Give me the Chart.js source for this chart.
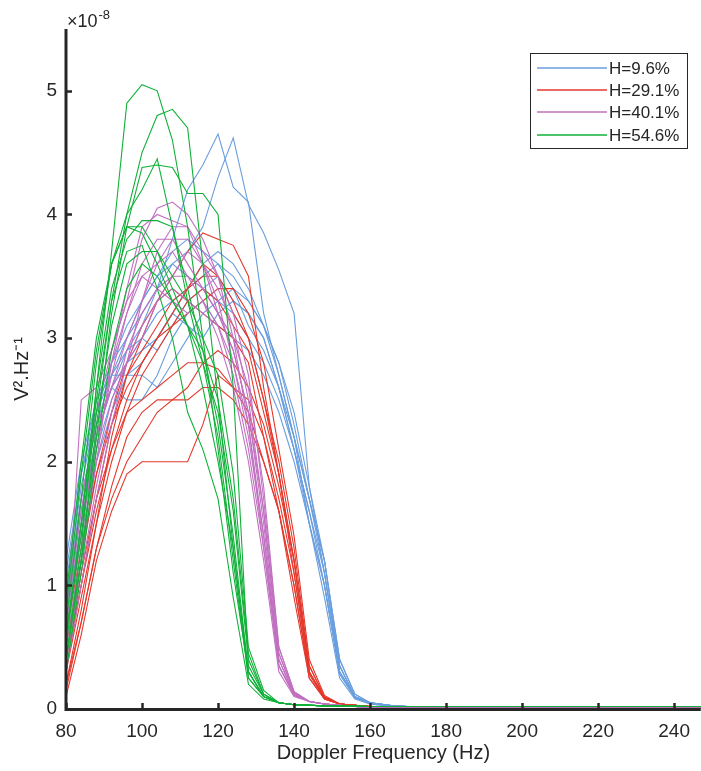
<!DOCTYPE html>
<html>
<head>
<meta charset="utf-8">
<title>Doppler spectra</title>
<script src="https://cdn.jsdelivr.net/npm/chart.js@4.4.1/dist/chart.umd.min.js"></script>
<style>
  html, body { margin: 0; padding: 0; background: #fff; }
  #wrap { width: 701px; height: 771px; position: relative; }
</style>
</head>
<body>
<div id="wrap"><canvas id="spectrumChart"></canvas></div>
<script>
// Frequency grid (Hz) shared by every run
const freqs = [80, 84, 88, 92, 96, 100, 104, 108, 112, 116, 120, 124, 128, 132, 136, 140, 144, 148, 152, 156, 160, 166, 175, 248];

// Tick values (y in units of 1e-8 V².Hz⁻¹)
const xTicks = [80, 100, 120, 140, 160, 180, 200, 220, 240];
const yTicks = [0, 1, 2, 3, 4, 5];

const seriesLabels = ['H=9.6%', 'H=29.1%', 'H=40.1%', 'H=54.6%'];

// H=9.6% runs
const blueRuns = [
  [0.8, 1.6, 2.2, 2.6, 2.9, 3.1, 3.4, 3.8, 4.2, 4.4, 4.65, 4.22, 4.1, 3.2, 2.7, 2.2, 1.7, 1.2, 0.4, 0.12, 0.05, 0.025, 0.012, 0.006],
  [0.9, 1.7, 2.3, 2.7, 3.0, 3.2, 3.4, 3.6, 3.7, 3.9, 4.3, 4.62, 4.08, 3.85, 3.55, 3.2, 1.8, 1.1, 0.35, 0.1, 0.05, 0.025, 0.012, 0.006],
  [0.7, 1.5, 2.1, 2.5, 2.8, 2.9, 3.0, 3.2, 3.4, 3.6, 3.7, 3.6, 3.4, 3.1, 2.8, 2.3, 1.7, 1.2, 0.35, 0.1, 0.05, 0.025, 0.012, 0.006],
  [1.0, 1.9, 2.4, 2.7, 2.9, 3.0, 2.9, 3.1, 3.3, 3.4, 3.5, 3.3, 3.2, 3.0, 2.6, 2.1, 1.6, 1.0, 0.3, 0.1, 0.05, 0.025, 0.012, 0.006],
  [0.6, 1.4, 2.0, 2.4, 2.7, 2.7, 2.6, 2.8, 3.0, 3.2, 3.3, 3.2, 3.0, 2.8, 2.5, 2.1, 1.6, 1.1, 0.3, 0.09, 0.05, 0.025, 0.012, 0.006],
  [1.2, 2.0, 2.5, 2.8, 3.0, 3.3, 3.5, 3.6, 3.5, 3.4, 3.3, 3.4, 3.3, 3.1, 2.7, 2.2, 1.5, 0.9, 0.25, 0.08, 0.04, 0.02, 0.01, 0.006],
  [0.8, 1.7, 2.3, 2.6, 2.5, 2.5, 2.7, 3.0, 3.2, 3.3, 3.1, 3.0, 2.9, 2.7, 2.4, 2.0, 1.5, 1.0, 0.3, 0.1, 0.05, 0.025, 0.012, 0.006],
  [0.9, 1.8, 2.4, 2.8, 3.1, 3.3, 3.5, 3.7, 3.8, 3.7, 3.6, 3.5, 3.3, 3.1, 2.8, 2.4, 1.8, 1.2, 0.4, 0.12, 0.05, 0.025, 0.012, 0.006],
  [0.7, 1.5, 2.2, 2.6, 2.8, 3.0, 3.2, 3.3, 3.4, 3.5, 3.6, 3.4, 3.1, 2.9, 2.6, 2.2, 1.7, 1.1, 0.35, 0.1, 0.05, 0.025, 0.012, 0.006],
  [1.1, 1.9, 2.5, 2.7, 2.7, 2.8, 3.0, 3.2, 3.1, 3.0, 3.2, 3.3, 3.2, 3.0, 2.6, 2.1, 1.5, 1.0, 0.28, 0.09, 0.04, 0.02, 0.01, 0.006]
];

// H=29.1% runs
const redRuns = [
  [0.2, 0.8, 1.5, 2.2, 2.7, 3.0, 3.3, 3.5, 3.7, 3.85, 3.8, 3.75, 3.5, 2.6, 1.9, 1.2, 0.3, 0.09, 0.04, 0.03, 0.02, 0.012, 0.008, 0.005],
  [0.3, 1.0, 1.7, 2.3, 2.7, 2.9, 3.1, 3.3, 3.4, 3.5, 3.5, 3.3, 3.0, 2.5, 2.0, 1.3, 0.35, 0.1, 0.04, 0.03, 0.02, 0.012, 0.008, 0.005],
  [0.1, 0.6, 1.2, 1.6, 1.9, 2.0, 2.0, 2.0, 2.0, 2.3, 2.7, 2.6, 2.4, 2.0, 1.6, 1.0, 0.25, 0.08, 0.04, 0.03, 0.02, 0.012, 0.008, 0.005],
  [0.4, 1.1, 1.7, 2.1, 2.4, 2.5, 2.6, 2.7, 2.8, 2.8, 2.75, 2.6, 2.5, 2.2, 1.7, 1.1, 0.3, 0.09, 0.04, 0.03, 0.02, 0.012, 0.008, 0.005],
  [0.3, 0.9, 1.5, 2.0, 2.4, 2.7, 2.9, 3.1, 3.3, 3.4, 3.3, 3.1, 2.9, 2.4, 1.9, 1.2, 0.3, 0.09, 0.04, 0.03, 0.02, 0.012, 0.008, 0.005],
  [0.5, 1.2, 1.9, 2.4, 2.8, 3.1, 3.3, 3.4, 3.3, 3.2, 3.1, 3.0, 2.8, 2.2, 1.6, 0.9, 0.25, 0.08, 0.04, 0.03, 0.02, 0.012, 0.008, 0.005],
  [0.2, 0.7, 1.3, 1.8, 2.2, 2.4, 2.5, 2.5, 2.6, 2.8, 2.9, 2.8, 2.6, 2.3, 1.8, 1.2, 0.35, 0.1, 0.04, 0.03, 0.02, 0.012, 0.008, 0.005],
  [0.6, 1.3, 1.9, 2.3, 2.6, 2.8, 3.0, 3.2, 3.4, 3.6, 3.5, 3.2, 3.0, 2.5, 1.9, 1.1, 0.3, 0.09, 0.04, 0.03, 0.02, 0.012, 0.008, 0.005],
  [0.15, 0.7, 1.3, 1.7, 2.0, 2.2, 2.4, 2.5, 2.5, 2.6, 2.6, 2.5, 2.3, 2.0, 1.6, 1.0, 0.28, 0.08, 0.04, 0.03, 0.02, 0.012, 0.008, 0.005],
  [0.4, 1.0, 1.6, 2.1, 2.5, 2.8, 3.0, 3.1, 3.2, 3.3, 3.4, 3.4, 3.2, 2.8, 2.1, 1.4, 0.4, 0.11, 0.04, 0.03, 0.02, 0.012, 0.008, 0.005]
];

// H=40.1% runs
const magentaRuns = [
  [0.5, 2.5, 2.6, 2.9, 3.3, 3.8, 4.05, 4.1, 4.0, 3.8, 3.5, 3.0, 2.3, 1.3, 0.35, 0.12, 0.06, 0.04, 0.03, 0.02, 0.015, 0.01, 0.007, 0.005],
  [0.3, 1.2, 2.0, 2.8, 3.4, 3.9, 4.0, 3.95, 3.9, 3.6, 3.3, 2.8, 2.2, 1.4, 0.4, 0.12, 0.06, 0.04, 0.03, 0.02, 0.015, 0.01, 0.007, 0.005],
  [0.6, 1.5, 2.2, 2.6, 3.0, 3.3, 3.6, 3.8, 3.8, 3.6, 3.4, 3.1, 2.5, 1.6, 0.45, 0.13, 0.06, 0.04, 0.03, 0.02, 0.015, 0.01, 0.007, 0.005],
  [0.4, 1.1, 1.8, 2.4, 2.9, 3.2, 3.4, 3.5, 3.7, 3.6, 3.2, 2.9, 2.4, 1.5, 0.4, 0.12, 0.06, 0.04, 0.03, 0.02, 0.015, 0.01, 0.007, 0.005],
  [0.8, 1.7, 2.3, 2.6, 2.8, 3.0, 3.3, 3.4, 3.3, 3.2, 3.1, 2.8, 2.3, 1.4, 0.35, 0.11, 0.06, 0.04, 0.03, 0.02, 0.015, 0.01, 0.007, 0.005],
  [0.5, 1.3, 2.1, 2.7, 3.2, 3.5, 3.6, 3.7, 3.5, 3.3, 3.0, 2.6, 2.0, 1.2, 0.3, 0.1, 0.06, 0.04, 0.03, 0.02, 0.015, 0.01, 0.007, 0.005],
  [0.3, 1.0, 1.7, 2.3, 2.8, 3.3, 3.7, 3.9, 3.9, 3.7, 3.5, 3.2, 2.7, 1.7, 0.5, 0.14, 0.06, 0.04, 0.03, 0.02, 0.015, 0.01, 0.007, 0.005],
  [0.7, 1.6, 2.4, 2.9, 3.3, 3.5, 3.4, 3.3, 3.2, 3.3, 3.1, 2.7, 2.1, 1.3, 0.35, 0.11, 0.06, 0.04, 0.03, 0.02, 0.015, 0.01, 0.007, 0.005],
  [0.4, 1.2, 2.0, 2.5, 2.8, 3.1, 3.3, 3.5, 3.5, 3.4, 3.2, 2.9, 2.4, 1.6, 0.45, 0.13, 0.06, 0.04, 0.03, 0.02, 0.015, 0.01, 0.007, 0.005],
  [0.6, 1.4, 2.2, 2.8, 3.2, 3.6, 3.8, 3.8, 3.6, 3.4, 3.2, 3.0, 2.6, 1.8, 0.5, 0.14, 0.06, 0.04, 0.03, 0.02, 0.015, 0.01, 0.007, 0.005]
];

// H=54.6% runs
const greenRuns = [
  [0.4, 1.3, 2.6, 3.7, 4.9, 5.05, 5.0, 4.6, 3.9, 3.0, 2.1, 1.1, 0.3, 0.1, 0.05, 0.035, 0.03, 0.025, 0.025, 0.022, 0.02, 0.02, 0.02, 0.02],
  [0.6, 1.4, 2.4, 3.3, 4.0, 4.5, 4.8, 4.85, 4.7, 3.6, 2.5, 1.3, 0.3, 0.1, 0.05, 0.035, 0.03, 0.025, 0.025, 0.022, 0.02, 0.02, 0.02, 0.02],
  [0.4, 1.2, 2.2, 3.2, 3.9, 4.38, 4.4, 4.38, 4.17, 4.17, 4.0, 2.6, 0.35, 0.12, 0.05, 0.035, 0.03, 0.025, 0.025, 0.022, 0.02, 0.02, 0.02, 0.02],
  [0.7, 1.7, 2.8, 3.6, 4.0, 4.2, 4.45, 3.9, 3.3, 2.8, 2.2, 1.2, 0.25, 0.1, 0.05, 0.035, 0.03, 0.025, 0.025, 0.022, 0.02, 0.02, 0.02, 0.02],
  [0.5, 1.5, 2.6, 3.4, 3.8, 3.95, 3.95, 3.9, 3.4, 2.9, 2.3, 1.4, 0.3, 0.1, 0.05, 0.035, 0.03, 0.025, 0.025, 0.022, 0.02, 0.02, 0.02, 0.02],
  [0.8, 1.9, 2.9, 3.6, 3.9, 3.9, 3.7, 3.4, 3.1, 2.6, 2.0, 1.3, 0.25, 0.1, 0.05, 0.035, 0.03, 0.025, 0.025, 0.022, 0.02, 0.02, 0.02, 0.02],
  [0.6, 1.5, 2.5, 3.3, 3.7, 3.75, 3.4, 3.0, 2.4, 2.1, 1.7, 0.9, 0.2, 0.08, 0.05, 0.035, 0.03, 0.025, 0.025, 0.022, 0.02, 0.02, 0.02, 0.02],
  [0.3, 1.1, 2.1, 2.9, 3.4, 3.6, 3.5, 3.3, 3.1, 2.8, 2.4, 1.6, 0.4, 0.12, 0.05, 0.035, 0.03, 0.025, 0.025, 0.022, 0.02, 0.02, 0.02, 0.02],
  [0.9, 2.0, 3.0, 3.6, 3.9, 3.85, 3.6, 3.3, 3.1, 2.9, 2.5, 1.7, 0.45, 0.12, 0.05, 0.035, 0.03, 0.025, 0.025, 0.022, 0.02, 0.02, 0.02, 0.02],
  [0.4, 1.2, 2.3, 3.1, 3.6, 3.7, 3.7, 3.5, 3.3, 3.0, 2.7, 1.9, 0.5, 0.15, 0.05, 0.035, 0.03, 0.025, 0.025, 0.022, 0.02, 0.02, 0.02, 0.02]
];

document.addEventListener('DOMContentLoaded', function () {
    const ctx = document.getElementById('spectrumChart').getContext('2d');

    const ink = '#262626';
    const fontFamily = '"Liberation Sans", Arial, Helvetica, sans-serif';

    // colour and stacking per group (green drawn on top, like the original)
    const groups = [
        { runs: blueRuns,    color: 'rgb(106,158,222)', order: 4 },
        { runs: redRuns,     color: 'rgb(228,56,44)',   order: 3 },
        { runs: magentaRuns, color: 'rgb(192,112,192)', order: 2 },
        { runs: greenRuns,   color: 'rgb(16,176,56)',   order: 1 }
    ];

    const datasets = [];
    groups.forEach(function (g, gi) {
        g.runs.forEach(function (run, ri) {
            datasets.push({
                label: seriesLabels[gi] + ' #' + (ri + 1),
                data: run.map(function (v, i) { return { x: freqs[i], y: v }; }),
                borderColor: g.color,
                borderWidth: 1.1,
                pointRadius: 0,
                tension: 0,
                fill: false,
                order: g.order
            });
        });
    });

    // Draws MATLAB-like axes (inward ticks), the exponent and the boxed legend
    const matlabAxes = {
        id: 'matlabAxes',
        afterDatasetsDraw(chart) {
            const c = chart.ctx;
            const a = chart.chartArea;
            const xs = chart.scales.x;
            const ys = chart.scales.y;
            c.save();

            c.strokeStyle = ink;
            c.lineWidth = 3;
            c.beginPath();
            c.moveTo(a.left, a.top);
            c.lineTo(a.left, a.bottom + 1.5);
            c.moveTo(a.left - 1.5, a.bottom + 0.5);
            c.lineTo(a.right, a.bottom + 0.5);
            c.stroke();

            c.lineWidth = 2.5;
            c.beginPath();
            xTicks.forEach(function (v) {
                const px = Math.round(xs.getPixelForValue(v)) + 0.5;
                c.moveTo(px, a.bottom);
                c.lineTo(px, a.bottom - 6);
            });
            yTicks.forEach(function (v) {
                const py = Math.round(ys.getPixelForValue(v)) + 0.5;
                c.moveTo(a.left, py);
                c.lineTo(a.left + 6, py);
            });
            c.stroke();

            // exponent above the y axis
            c.fillStyle = ink;
            c.textBaseline = 'alphabetic';
            c.textAlign = 'left';
            c.font = '18px ' + fontFamily;
            c.fillText('\u00d710', 67, 27);
            const w = c.measureText('\u00d710').width;
            c.font = '13px ' + fontFamily;
            c.fillText('-8', 67 + w + 1, 19);

            // legend box
            const box = { x: 530.5, y: 53.5, w: 157, h: 95 };
            c.fillStyle = '#fff';
            c.fillRect(box.x, box.y, box.w, box.h);
            c.strokeStyle = ink;
            c.lineWidth = 1;
            c.strokeRect(box.x, box.y, box.w, box.h);
            const rows = [68, 90, 112, 135];
            c.font = '17px ' + fontFamily;
            c.textBaseline = 'middle';
            groups.forEach(function (g, i) {
                c.strokeStyle = g.color;
                c.lineWidth = 1.5;
                c.beginPath();
                c.moveTo(537, rows[i]);
                c.lineTo(607, rows[i]);
                c.stroke();
                c.fillStyle = ink;
                c.fillText(seriesLabels[i], 609, rows[i] + 1);
            });

            c.restore();
        }
    };

    new Chart(ctx, {
        type: 'line',
        data: { datasets: datasets },
        options: {
            responsive: true,
            maintainAspectRatio: false,
            animation: false,
            layout: { padding: { top: 29, right: 0, left: 0, bottom: 0 } },
            plugins: {
                legend: { display: false },
                tooltip: { enabled: false }
            },
            scales: {
                x: {
                    type: 'linear',
                    min: 80,
                    max: 247,
                    grid: { display: false, drawTicks: false, tickLength: 0 },
                    border: { display: false },
                    afterBuildTicks: function (s) { s.ticks = xTicks.map(function (v) { return { value: v }; }); },
                    afterFit: function (s) { s.height = 62; },
                    ticks: {
                        color: ink,
                        padding: 11,
                        maxRotation: 0,
                        font: { family: fontFamily, size: 19 }
                    },
                    title: {
                        display: true,
                        text: 'Doppler Frequency (Hz)',
                        color: ink,
                        font: { family: fontFamily, size: 20 },
                        padding: { top: 0, bottom: 6 }
                    }
                },
                y: {
                    min: 0,
                    max: 5.5,
                    grid: { display: false, drawTicks: false, tickLength: 0 },
                    border: { display: false },
                    afterBuildTicks: function (s) { s.ticks = yTicks.map(function (v) { return { value: v }; }); },
                    afterFit: function (s) { s.width = 66; },
                    ticks: {
                        color: ink,
                        padding: 9,
                        font: { family: fontFamily, size: 19 }
                    },
                    title: {
                        display: true,
                        text: 'V\u00b2.Hz\u207b\u00b9',
                        color: ink,
                        font: { family: fontFamily, size: 20 },
                        padding: { top: 10, bottom: 0 }
                    }
                }
            }
        },
        plugins: [matlabAxes]
    });
});
</script>
</body>
</html>
